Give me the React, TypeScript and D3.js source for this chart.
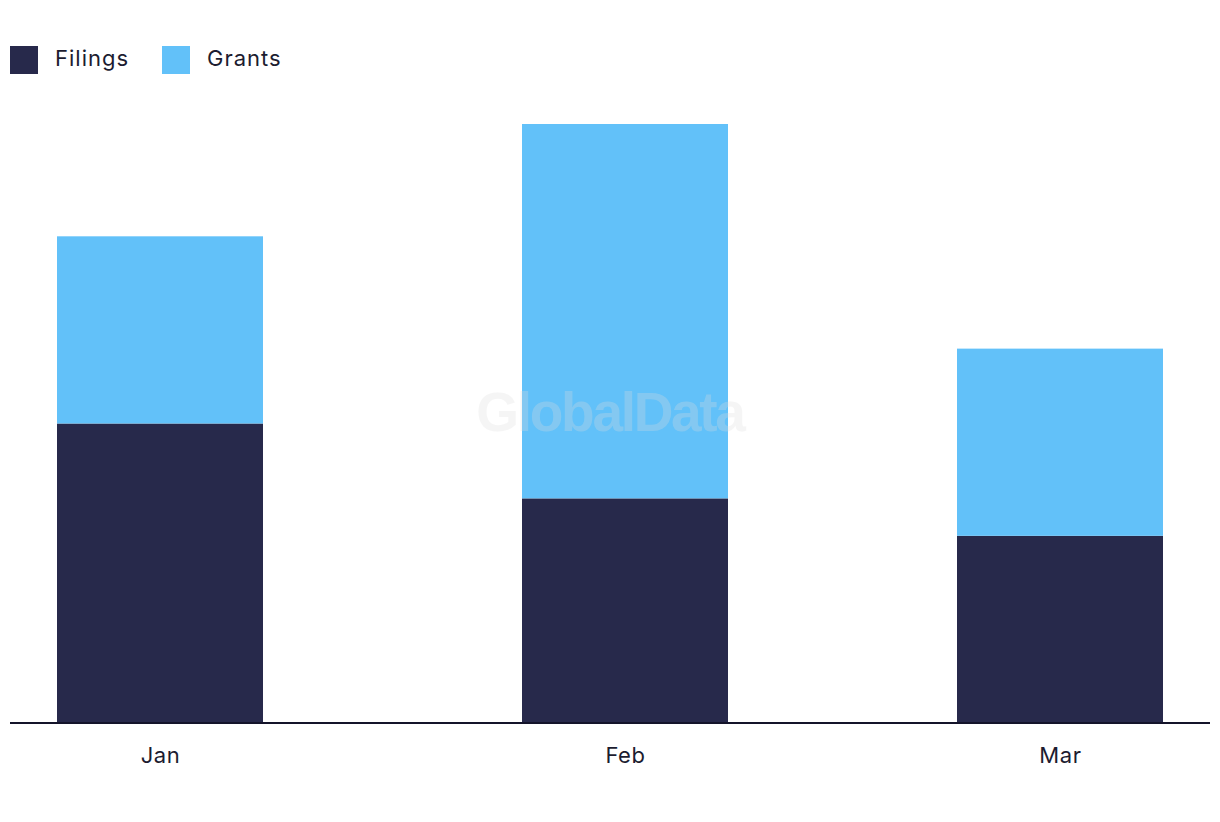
import React from "react";
import * as d3 from "d3";

const categories = ["Jan", "Feb", "Mar"];
const dates = [new Date(2024, 0, 1), new Date(2024, 1, 1), new Date(2024, 2, 1)];
const filings = [8, 6, 5];
const grants = [5, 10, 5];
const seriesNames = ["Filings", "Grants"];
const seriesColors = ["#27294B", "#62C1F9"];

const W = 1220;
const H = 822;
const BAR_W = 206;

export default function App() {
  const x = d3
    .scaleTime()
    .domain([new Date(2023, 11, 22), new Date(2024, 2, 11)])
    .range([10, 1210]);
  const y = d3.scaleLinear().domain([0, 16]).range([723, 124]);

  const rows = categories.map((c, i) => ({ cat: c, date: dates[i], Filings: filings[i], Grants: grants[i] }));
  const stack = d3.stack<any>().keys(seriesNames)(rows);

  return (
    <svg
      width={W}
      height={H}
      style={{ position: "absolute", left: 0, top: 0, background: "#fff" }}
    >
      {/* legend */}
      {seriesNames.map((s, i) => {
        const lx = [10, 162][i];
        return (
          <g key={s}>
            <rect x={lx} y={46} width={28} height={28} fill={seriesColors[i]} />
            <text
              x={lx + 45}
              y={66}
              fontFamily="Inter, 'Open Sans', sans-serif"
              fontSize={22}
              letterSpacing={1}
              fill="#1c1c30"
            >
              {s}
            </text>
          </g>
        );
      })}

      {/* bars */}
      {stack.map((layer, li) => (
        <g key={layer.key} fill={seriesColors[li]}>
          {layer.map((d, i) => (
            <rect
              key={i}
              x={x(d.data.date) - BAR_W / 2}
              y={y(d[1])}
              width={BAR_W}
              height={y(d[0]) - y(d[1])}
            />
          ))}
        </g>
      ))}

      {/* watermark */}
      <text
        x={610}
        y={431}
        textAnchor="middle"
        fontFamily="'Liberation Sans', Arial, sans-serif"
        fontWeight="bold"
        fontSize={55}
        letterSpacing={-2.3}
        fill="#dddddd"
        opacity={0.28}
      >
        GlobalData
      </text>

      {/* axis */}
      <line x1={10} x2={1210} y1={y(0)} y2={y(0)} stroke="#14142a" strokeWidth={2} />
      {rows.map((r) => (
        <text
          key={r.cat}
          x={x(r.date) + 0.5}
          y={763}
          textAnchor="middle"
          fontFamily="Inter, 'Open Sans', sans-serif"
          fontSize={22}
          letterSpacing={0.6}
          fill="#1c1c30"
        >
          {r.cat}
        </text>
      ))}
    </svg>
  );
}
